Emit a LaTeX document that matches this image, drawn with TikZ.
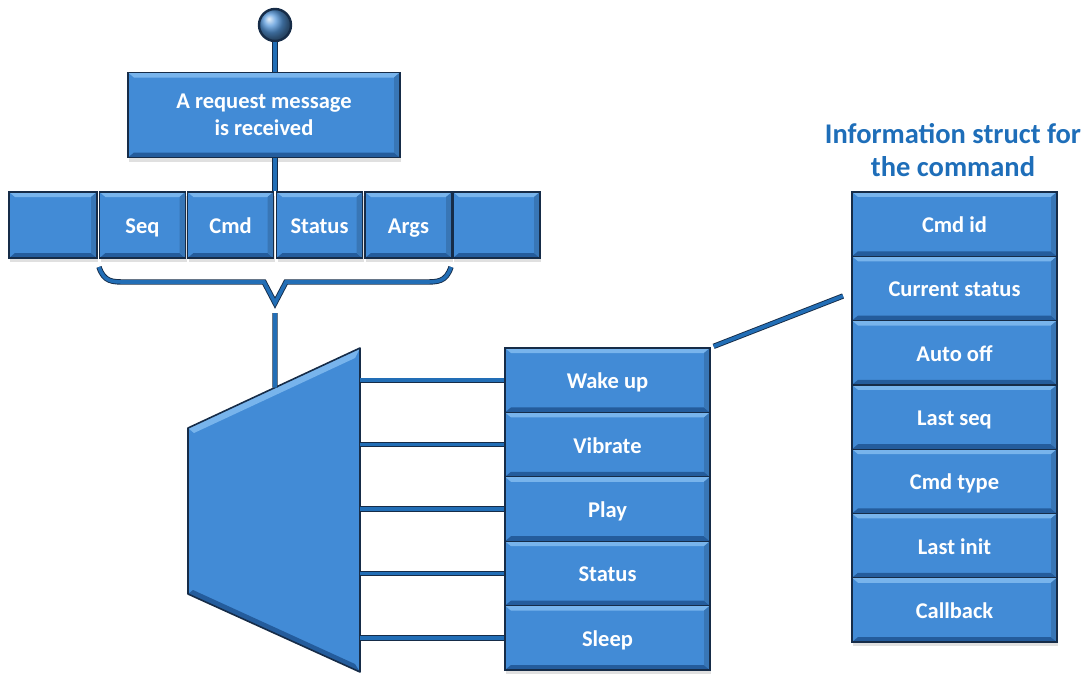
\documentclass[tikz,border=0pt]{standalone}
\usepackage{fontspec}
\setmainfont{Carlito}
\usetikzlibrary{calc,shadows}

\definecolor{boxblue}{RGB}{66,139,214}
\definecolor{bevlight}{RGB}{120,180,236}
\definecolor{bevdark}{RGB}{36,92,156}
\definecolor{edgenavy}{RGB}{22,44,72}
\definecolor{linkblue}{RGB}{34,110,182}
\definecolor{titleblue}{RGB}{30,110,185}

\tikzset{
  cell/.style={
    draw=edgenavy, line width=1.3pt, fill=boxblue, text=white,
    font=\bfseries\fontsize{22.5}{27}\selectfont, align=center, inner sep=0pt,
    text height=20pt, text depth=3pt,
    drop shadow={shadow xshift=1pt, shadow yshift=-4pt, opacity=0.12, fill=black},
    path picture={
      % light top bevel
      \fill[bevlight] (path picture bounding box.north west) -- (path picture bounding box.north east)
        -- ([shift={(-6pt,-5pt)}]path picture bounding box.north east)
        -- ([shift={(6pt,-5pt)}]path picture bounding box.north west) -- cycle;
      % dark bottom bevel
      \fill[bevdark] (path picture bounding box.south west) -- (path picture bounding box.south east)
        -- ([shift={(-6pt,5pt)}]path picture bounding box.south east)
        -- ([shift={(6pt,5pt)}]path picture bounding box.south west) -- cycle;
      % right side slightly darker
      \fill[boxblue!85!black] (path picture bounding box.north east) -- (path picture bounding box.south east)
        -- ([shift={(-6pt,5pt)}]path picture bounding box.south east)
        -- ([shift={(-6pt,-5pt)}]path picture bounding box.north east) -- cycle;
    }},
  link/.style={draw=edgenavy, double=linkblue, double distance=3.6pt, line width=0.9pt},
  titletext/.style={text=titleblue, font=\bfseries\fontsize{28.5}{33}\selectfont, align=center},
}

\begin{document}
\begin{tikzpicture}[x=1pt, y=-1pt]
  \useasboundingbox (0,0) rectangle (1086,675);

  % entry point
  \node[circle, minimum size=32pt, inner sep=0pt, draw=edgenavy, line width=2.4pt,
        ball color=boxblue!90!white] (start) at (275,25) {};

  % incoming request
  \node[cell, text height=, text depth=, minimum width=272pt, minimum height=85pt] (req) at (264,115)
       {A request message\\is received};

  % message fields
  \node[cell, minimum width=88pt, minimum height=66pt] (f0) at (53,225) {};
  \node[cell, minimum width=86pt, minimum height=66pt] (seq) at (142.5,225) {Seq};
  \node[cell, minimum width=86pt, minimum height=66pt] (cmd) at (230.5,225) {Cmd};
  \node[cell, minimum width=86pt, minimum height=66pt] (status) at (319.5,225) {Status};
  \node[cell, minimum width=87pt, minimum height=66pt] (args) at (408.5,225) {Args};
  \node[cell, minimum width=87pt, minimum height=66pt] (f5) at (496.5,225) {};

  \draw[link] (start.south) -- (start.south |- req.north);
  \draw[link] (req.south -| start) -- (start |- cmd.north);

  % brace grouping the fields
  \coordinate (braceL) at (99,267);
  \coordinate (braceR) at (451,267);
  \coordinate (braceTip) at (275,303);
  \draw[link, line join=miter]
    (braceL) .. controls (104,282) and (112,282) .. (126,282) -- (264,282)
    -- (braceTip) -- (286,282) -- (424,282) .. controls (438,282) and (446,282) .. (braceR);

  % dispatcher
  \coordinate (muxNW) at (188,428);
  \coordinate (muxNE) at (360,348);
  \coordinate (muxSE) at (360,672);
  \coordinate (muxSW) at (188,594);
  \coordinate (muxIn) at ($(muxNW)!0.5058!(muxNE)$);
  \fill[boxblue] (muxNW) -- (muxNE) -- (muxSE) -- (muxSW) -- cycle;
  \fill[bevlight] (muxNW) -- (muxNE) -- (355,358) -- (194,433) -- cycle;
  \fill[bevdark] (muxSW) -- (muxSE) -- (355,664) -- (193,590) -- cycle;
  \draw[edgenavy, line width=1.6pt, line join=round] (muxNW) -- (muxNE) -- (muxSE) -- (muxSW) -- cycle;

  \coordinate (braceOut) at (275,313);
  \draw[link] (braceOut) -- (muxIn);

  % command table
  \node[cell, minimum width=205pt, minimum height=64.4pt] (wake) at (607.5,380.2) {Wake up};
  \node[cell, minimum width=205pt, minimum height=64.4pt] (vibrate) at (607.5,444.6) {Vibrate};
  \node[cell, minimum width=205pt, minimum height=64.4pt] (play) at (607.5,509) {Play};
  \node[cell, minimum width=205pt, minimum height=64.4pt] (cstatus) at (607.5,573.4) {Status};
  \node[cell, minimum width=205pt, minimum height=64.4pt] (sleep) at (607.5,637.8) {Sleep};

  \foreach \n in {wake,vibrate,play,cstatus,sleep}
    \draw[link] (\n.west -| muxNE) -- (\n.west);

  % command information struct
  \node[titletext] (title) at (953,150) {Information struct for\\the command};

  \node[cell, minimum width=205pt, minimum height=64.3pt] (cid) at (954.5,224.1) {Cmd id};
  \node[cell, minimum width=205pt, minimum height=64.3pt] (cur) at (954.5,288.4) {Current status};
  \node[cell, minimum width=205pt, minimum height=64.3pt] (auto) at (954.5,352.7) {Auto off};
  \node[cell, minimum width=205pt, minimum height=64.3pt] (lseq) at (954.5,417) {Last seq};
  \node[cell, minimum width=205pt, minimum height=64.3pt] (ctype) at (954.5,481.3) {Cmd type};
  \node[cell, minimum width=205pt, minimum height=64.3pt] (linit) at (954.5,545.6) {Last init};
  \node[cell, minimum width=205pt, minimum height=64.3pt] (cb) at (954.5,609.9) {Callback};

  \coordinate (structLink) at (843,296);
  \draw[link] ([shift={(3pt,1pt)}]wake.north east) -- (structLink);
\end{tikzpicture}
\end{document}
